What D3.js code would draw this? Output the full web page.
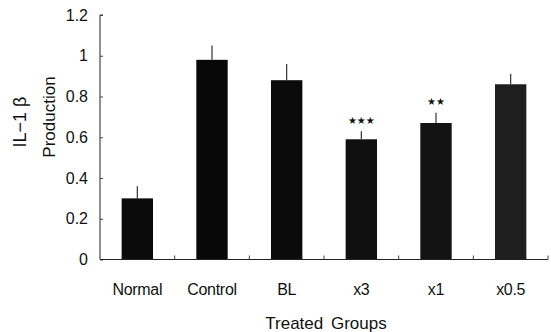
<!DOCTYPE html>
<html>
<head>
<meta charset="utf-8">
<script src="https://cdn.jsdelivr.net/npm/d3@7/dist/d3.min.js"></script>
<style>
  html, body { margin: 0; padding: 0; background: #fff; }
  svg { display: block; }
  text { font-family: "Liberation Sans", Arial, sans-serif; fill: #111; }
</style>
</head>
<body>
<svg id="chart" width="551" height="332"></svg>
<script>
// IL-1β production per treated group (mean and upper error)
const groups = ["Normal", "Control", "BL", "x3", "x1", "x0.5"];
const production = [0.30, 0.98, 0.88, 0.59, 0.67, 0.86];
const errors = [0.06, 0.07, 0.08, 0.04, 0.05, 0.05];
const significance = ["", "", "", "★★★", "★★", ""];
const yTicks = [0, 0.2, 0.4, 0.6, 0.8, 1, 1.2];

const svg = d3.select("#chart");
const plotLeft = 100, plotRight = 548, plotTop = 15, plotBottom = 259.5;

const x = d3.scaleBand().domain(groups).range([plotLeft, plotRight])
  .paddingInner(0.58).paddingOuter(0.29);
const y = d3.scaleLinear().domain([0, 1.2]).range([plotBottom, plotTop]);
const fill = d3.scaleOrdinal().domain(groups)
  .range(["#0b0b0b", "#080808", "#0b0b0b", "#101010", "#131313", "#1e1e1e"]);

// bars
svg.append("g").selectAll("rect").data(groups).join("rect")
  .attr("x", d => x(d))
  .attr("width", x.bandwidth())
  .attr("y", (d, i) => y(production[i]))
  .attr("height", (d, i) => y(0) - y(production[i]))
  .attr("fill", d => fill(d));

// upper error lines
svg.append("g").selectAll("line").data(groups).join("line")
  .attr("x1", d => x(d) + x.bandwidth() / 2)
  .attr("x2", d => x(d) + x.bandwidth() / 2)
  .attr("y1", (d, i) => y(production[i]))
  .attr("y2", (d, i) => y(production[i] + errors[i]))
  .attr("stroke", "#333").attr("stroke-width", 1.2);

// significance stars
svg.append("g").selectAll("text").data(groups).join("text")
  .attr("x", d => x(d) + x.bandwidth() / 2)
  .attr("y", (d, i) => y(production[i] + errors[i]) - 7.5)
  .attr("text-anchor", "middle")
  .style("font-family", "DejaVu Sans, sans-serif")
  .style("font-size", "10px")
  .text((d, i) => significance[i]);

// y axis
const yAxis = d3.axisLeft(y).tickValues(yTicks).tickSize(-3).tickPadding(12)
  .tickFormat(d => d3.format("~g")(d));
const gy = svg.append("g").attr("transform", `translate(${plotLeft},0)`).call(yAxis);
gy.select(".domain").attr("stroke", "#222").attr("d", `M3,${plotTop}H0V${plotBottom}`);
gy.selectAll(".tick line").attr("stroke", "#444");
gy.selectAll(".tick text").style("font-size", "16px")
  .style("font-family", "Liberation Sans, Arial, sans-serif").attr("fill", "#111");

// x axis with upward ticks at the group boundaries
const boundaries = groups.map(g => x(g) - x.step() * x.paddingOuter() + x.step());
const gx = svg.append("g").attr("transform", `translate(0,${plotBottom})`);
gx.append("line").attr("x1", plotLeft).attr("x2", plotRight).attr("stroke", "#222");
gx.selectAll("line.b").data(boundaries).join("line").attr("class", "b")
  .attr("x1", d => d).attr("x2", d => d).attr("y1", 0).attr("y2", -4)
  .attr("stroke", "#444");
gx.selectAll("text").data(groups).join("text")
  .attr("x", d => x(d) + x.bandwidth() / 2)
  .attr("y", 35)
  .attr("text-anchor", "middle")
  .style("font-size", "16px")
  .style("letter-spacing", "-0.3px")
  .text(d => d);

// axis titles
svg.append("text")
  .attr("transform", "translate(326,329)")
  .attr("text-anchor", "middle")
  .style("font-size", "17px").style("word-spacing", "3px")
  .text("Treated Groups");
svg.append("text")
  .attr("transform", "translate(26,122) rotate(-90)")
  .attr("text-anchor", "middle")
  .style("font-size", "18px")
  .text("IL−1 β");
svg.append("text")
  .attr("transform", "translate(55,117) rotate(-90)")
  .attr("text-anchor", "middle")
  .style("font-size", "17px")
  .text("Production");
</script>
</body>
</html>
